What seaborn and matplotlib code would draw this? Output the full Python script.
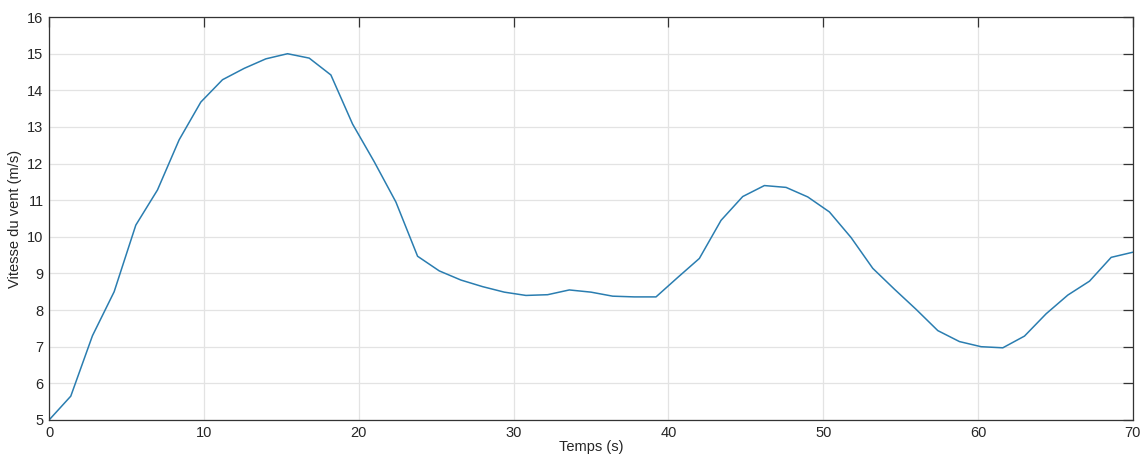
import matplotlib
matplotlib.use('Agg')
import matplotlib.pyplot as plt
import numpy as np
import pandas as pd
import seaborn as sns

# sample times (s), one every 1.4 s
temps = [0.0, 1.4, 2.8, 4.2, 5.6, 7.0, 8.4, 9.8, 11.2, 12.6,
         14.0, 15.4, 16.8, 18.2, 19.6, 21.0, 22.4, 23.8, 25.2, 26.6,
         28.0, 29.4, 30.8, 32.2, 33.6, 35.0, 36.4, 37.8, 39.2, 40.6,
         42.0, 43.4, 44.8, 46.2, 47.6, 49.0, 50.4, 51.8, 53.2, 54.6,
         56.0, 57.4, 58.8, 60.2, 61.6, 63.0, 64.4, 65.8, 67.2, 68.6,
         70.0]
# wind speed (m/s)
vitesse = [5.0, 5.65, 7.3, 8.5, 10.32, 11.28, 12.65, 13.68, 14.29, 14.6,
           14.86, 15.0, 14.88, 14.42, 13.08, 12.05, 10.95, 9.47, 9.07, 8.82,
           8.64, 8.49, 8.4, 8.42, 8.55, 8.49, 8.38, 8.36, 8.36, 8.89,
           9.41, 10.45, 11.1, 11.4, 11.35, 11.09, 10.68, 9.98, 9.14, 8.57,
           8.02, 7.44, 7.14, 7.0, 6.97, 7.29, 7.9, 8.41, 8.79, 9.44,
           9.58]

x_ticks = [0, 10, 20, 30, 40, 50, 60, 70]
y_ticks = list(range(5, 17))

df = pd.DataFrame({'temps': temps, 'vitesse': vitesse})

sns.set_style('white')
plt.rcParams['font.family'] = ['Liberation Sans', 'DejaVu Sans']

fig, ax = plt.subplots(figsize=(11.42, 4.62), dpi=100)
fig.subplots_adjust(left=0.043, right=0.992, top=0.963, bottom=0.091)

sns.lineplot(data=df, x='temps', y='vitesse', ax=ax, color='#2a7db0',
             linewidth=1.1)

ax.set_xlim(0, 70)
ax.set_ylim(5, 16)
ax.set_xticks(x_ticks)
ax.set_yticks(y_ticks)
ax.grid(True, color='#e3e3e3', linewidth=0.9)
ax.set_axisbelow(True)
for side in ['top', 'bottom', 'left', 'right']:
    ax.spines[side].set_visible(True)
    ax.spines[side].set_color('#333333')
    ax.spines[side].set_linewidth(0.9)
ax.tick_params(direction='in', length=7, width=0.9, color='#333333',
               top=True, right=True, labelsize=10.5, labelcolor='#262626',
               pad=4)

ax.set_xlabel('Temps (s)', fontsize=10.5, color='#262626', labelpad=0)
ax.set_ylabel('Vitesse du vent (m/s)', fontsize=10.5, color='#262626',
              labelpad=4)

fig.savefig('out.png', dpi=100)
plt.close(fig)
